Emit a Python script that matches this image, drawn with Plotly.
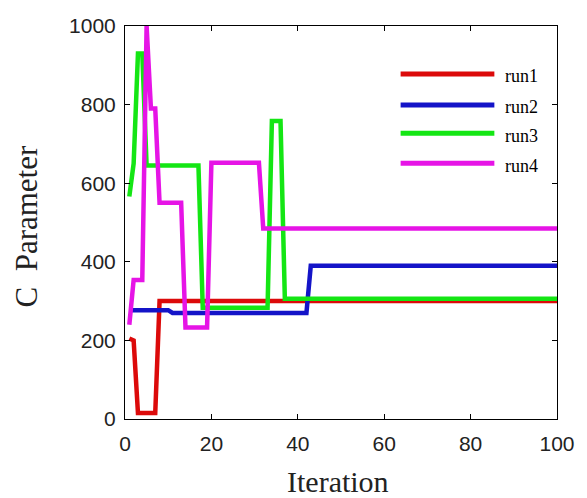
import plotly.graph_objects as go

# Vertices (iteration, C parameter)
run1_iter = [1, 2, 3, 7, 8, 100]
run1_vals = [205, 200, 15, 15, 300, 300]

run2_iter = [1, 10, 11, 42, 43, 100]
run2_vals = [277, 277, 270, 270, 390, 390]

run3_iter = [1, 2, 3, 4, 5, 17, 18, 33, 34, 36, 37, 100]
run3_vals = [566, 650, 930, 930, 645, 645, 283, 283, 758, 758, 306, 306]

run4_iter = [1, 2, 4, 5, 6, 7, 8, 13, 14, 19, 20, 31, 32, 100]
run4_vals = [240, 354, 354, 1000, 790, 790, 550, 550, 233, 233, 652, 652, 485, 485]

series_names = ["run1", "run2", "run3", "run4"]
series_colors = ["#dc0a0a", "#1414c8", "#14e614", "#e614e6"]
x_ticks = [0, 20, 40, 60, 80, 100]
y_ticks = [0, 200, 400, 600, 800, 1000]

data = [(run1_iter, run1_vals), (run2_iter, run2_vals),
        (run3_iter, run3_vals), (run4_iter, run4_vals)]

fig = go.Figure()
for (xs, ys), name, col in zip(data, series_names, series_colors):
    fig.add_trace(go.Scatter(x=xs, y=ys, mode="lines", name=name,
                             line=dict(color=col, width=4.5),
                             showlegend=False))

tick_font = dict(family="Liberation Sans, Arial, sans-serif", size=21, color="#222")
axis_common = dict(showline=True, linecolor="black", linewidth=1, mirror="ticks",
                   ticks="inside", ticklen=5, tickcolor="black", tickwidth=1,
                   showgrid=False, zeroline=False, tickfont=tick_font,
                   ticklabeloverflow="allow")

fig.update_xaxes(range=[0, 100], tickvals=x_ticks, ticklabelstandoff=6, **axis_common)
fig.update_yaxes(range=[0, 1000], tickvals=y_ticks, ticklabelstandoff=4, **axis_common)

# Manual legend (long sample lines like the reference)
leg_y = [0.878, 0.799, 0.727, 0.651]
shapes = []
annotations = []
for name, col, yy in zip(series_names, series_colors, leg_y):
    shapes.append(dict(type="line", xref="paper", yref="paper",
                       x0=0.638, x1=0.855, y0=yy, y1=yy,
                       line=dict(color=col, width=5)))
    annotations.append(dict(xref="paper", yref="paper", x=0.875, y=yy - 0.006,
                            text=name, showarrow=False, xanchor="left", yanchor="middle",
                            font=dict(family="Liberation Serif, Times New Roman, serif",
                                      size=18, color="black")))

serif = "Liberation Serif, Times New Roman, serif"
annotations.append(dict(xref="paper", yref="paper", x=0.492, y=-0.16,
                        text="Iteration", showarrow=False, xanchor="center", yanchor="middle",
                        font=dict(family=serif, size=30, color="#222")))
annotations.append(dict(xref="paper", yref="paper", x=-0.228, y=0.491,
                        text="C\u00a0\u00a0Parameter", showarrow=False, textangle=-90,
                        xanchor="center", yanchor="middle",
                        font=dict(family=serif, size=31, color="#222")))

fig.update_layout(width=587, height=498,
                  margin=dict(l=125, r=23, t=26, b=79),
                  paper_bgcolor="white", plot_bgcolor="white",
                  shapes=shapes, annotations=annotations, showlegend=False)

# Remove the browser's default 8px body margin so the figure fills the window exactly.
fig.write_html("out.html", config={"displayModeBar": False},
               post_script="document.body.style.margin='0';")
